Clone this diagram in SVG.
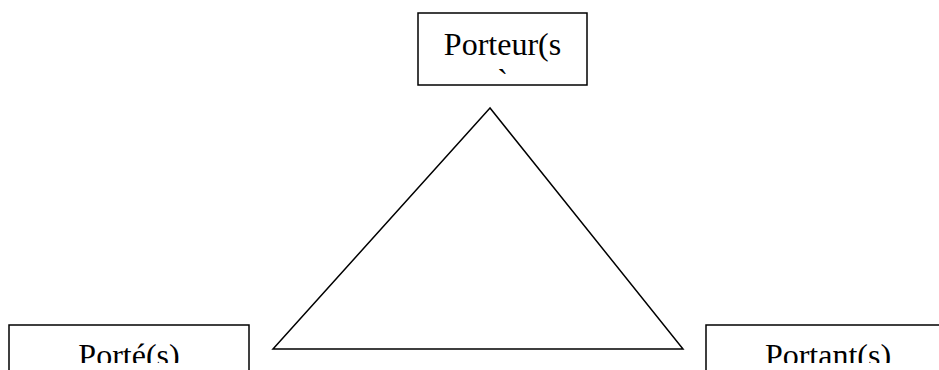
<svg xmlns="http://www.w3.org/2000/svg" width="939" height="370" viewBox="0 0 939 370">
<defs>
<style>
.box{fill:#fff;stroke:#000;stroke-width:1.5}
.lbl{font-family:"Liberation Serif","Times New Roman",serif;font-size:32px;fill:#000;text-anchor:middle}
.edge{fill:none;stroke:#000;stroke-width:1.5;stroke-linejoin:miter}
</style>
<clipPath id="cb"><rect x="0" y="0" width="939" height="363"/></clipPath>
</defs>
<rect width="939" height="370" fill="#fff"/>
<g id="connectors">
<polygon class="edge" points="490,108 273,349 683,349"/>
</g>
<g id="porteur">
<rect class="box" x="418" y="13" width="169" height="72"/>
<text class="lbl" x="502.5" y="55">Porteur(s</text>
<text class="lbl" x="502.5" y="91">`</text>
</g>
<g id="porte">
<rect class="box" x="9" y="325" width="240" height="60"/>
<text class="lbl" x="129" y="366" clip-path="url(#cb)">Porté(s)</text>
</g>
<g id="portant">
<rect class="box" x="706" y="325" width="250" height="60"/>
<text class="lbl" x="828" y="366" clip-path="url(#cb)">Portant(s)</text>
</g>
</svg>
